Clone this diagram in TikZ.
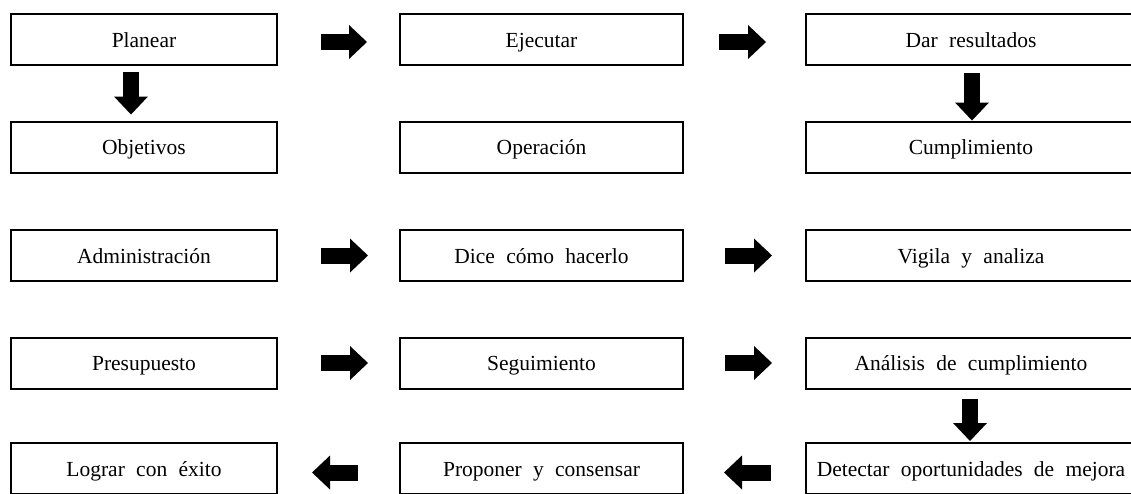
\documentclass[tikz,border=0pt]{standalone}
\usepackage{fontspec}
\setmainfont{Liberation Serif}[WordSpace=2.1]
\usetikzlibrary{arrows.meta}
\begin{document}
\begin{tikzpicture}[x=1pt,y=1pt,
  box/.style={draw=black,line width=2pt,minimum height=51pt,inner sep=0pt,
    text height=18pt,text depth=3pt,
    font=\fontsize{21.5}{24}\selectfont},
  lbox/.style={box,minimum width=266pt},
  mbox/.style={box,minimum width=283pt},
  rbox/.style={box,minimum width=330pt},
  blk/.style={line width=16pt,-{Triangle[width=34pt,length=18pt,line width=0pt]}}]
\useasboundingbox (0,0) rectangle (1131,-493);
\clip (0,0) rectangle (1131,-493);
% row 1
\node[lbox] (p) at (144,-39.5) {Planear};
\node[mbox] (e) at (541.5,-39.5) {Ejecutar};
\node[rbox] (d) at (971,-39.5) {Dar resultados};
% row 2
\node[lbox] (o) at (144,-147) {Objetivos};
\node[mbox] (op) at (541.5,-147) {Operación};
\node[rbox] (c) at (971,-147) {Cumplimiento};
% row 3
\node[lbox] (ad) at (144,-255.5) {Administración};
\node[mbox] (dc) at (541.5,-255.5) {Dice cómo hacerlo};
\node[rbox] (v) at (971,-255.5) {Vigila y analiza};
% row 4
\node[lbox] (pr) at (144,-363) {Presupuesto};
\node[mbox] (sg) at (541.5,-363) {Seguimiento};
\node[rbox] (an) at (971,-363) {Análisis de cumplimiento};
% row 5
\node[lbox] (lg) at (144,-468.5) {Lograr con éxito};
\node[mbox] (pc) at (541.5,-468.5) {Proponer y consensar};
\node[rbox] (dt) at (971,-468.5) {Detectar oportunidades de mejora};
% arrows
\draw[blk] ([shift={(43,-2.5)}]p.east) -- ([shift={(-32,-2.5)}]e.west);
\draw[blk] ([shift={(35,-2.5)}]e.east) -- ([shift={(-39,-2.5)}]d.west);
\draw[blk] ([shift={(-13,-6)}]p.south) -- ([shift={(-13,6)}]o.north);
\draw[blk] ([shift={(1,-7)}]d.south) -- ([shift={(1,0)}]c.north);
\draw[blk] ([shift={(43,0)}]ad.east) -- ([shift={(-31,0)}]dc.west);
\draw[blk] ([shift={(41,0)}]dc.east) -- ([shift={(-33,0)}]v.west);
\draw[blk] ([shift={(43,0)}]pr.east) -- ([shift={(-31,0)}]sg.west);
\draw[blk] ([shift={(41,0)}]sg.east) -- ([shift={(-33,0)}]an.west);
\draw[blk] ([shift={(-1,-9)}]an.south) -- ([shift={(-1,1)}]dt.north);
\draw[blk] ([shift={(-34,-4)}]dt.west) -- ([shift={(40,-4)}]pc.east);
\draw[blk] ([shift={(-41,-4)}]pc.west) -- ([shift={(34,-4)}]lg.east);
\end{tikzpicture}
\end{document}
